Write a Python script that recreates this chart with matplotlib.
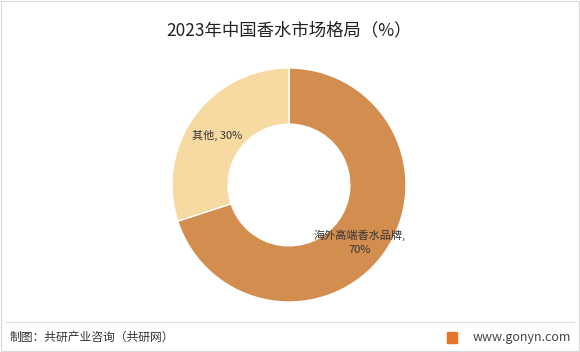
import matplotlib.pyplot as plt
from matplotlib.patches import Rectangle

plt.rcParams['font.family'] = ['Noto Sans CJK SC', 'DejaVu Sans']

title = '2023年中国香水市场格局（%）'
categories = ['海外高端香水品牌', '其他']
shares = [70, 30]
colors = ['#D38D4F', '#F7D9A2']

fig = plt.figure(figsize=(5.8, 3.52), dpi=100)
W, H = 580, 352

cx, cy, r = 289, 185, 117
ax = fig.add_axes([(cx - r) / W, 1 - (cy + r) / H, 2 * r / W, 2 * r / H])
ax.pie(shares, colors=colors, startangle=90, counterclock=False,
       wedgeprops=dict(width=0.48, edgecolor='white', linewidth=1))
ax.set_xlim(-1, 1)
ax.set_ylim(-1, 1)
ax.set_aspect('equal')
ax.axis('off')

fig.text(289 / W, 1 - 30 / H, title, fontsize=12.5, ha='center', va='center', color='#222222')

fig.text(192 / W, 1 - 135 / H, f'{categories[1]}, {shares[1]}%', fontsize=8,
         ha='left', va='center', color='#333333')
fig.text(360 / W, 1 - 242 / H, f'{categories[0]},\n{shares[0]}%', fontsize=8,
         ha='center', va='center', color='#333333', linespacing=1.5)

# footer
fig.add_artist(plt.Line2D([6 / W, 574 / W], [1 - 322 / H, 1 - 322 / H], color='#dddddd', lw=0.8))
fig.text(10 / W, 1 - 337 / H, '制图：共研产业咨询（共研网）', fontsize=8.5, ha='left', va='center', color='#333333')
fig.add_artist(Rectangle((447 / W, 1 - 343 / H), 10 / W, 11 / H, color='#E8742C'))
fig.text(571 / W, 1 - 337 / H, 'www.gonyn.com', fontsize=9, ha='right', va='center', color='#444444')

# outer border
fig.add_artist(Rectangle((1 / W, 1 / H), (W - 2) / W, (H - 2) / H, fill=False, edgecolor='#d8d8d8', lw=0.8))

fig.savefig('out.png', dpi=100)
